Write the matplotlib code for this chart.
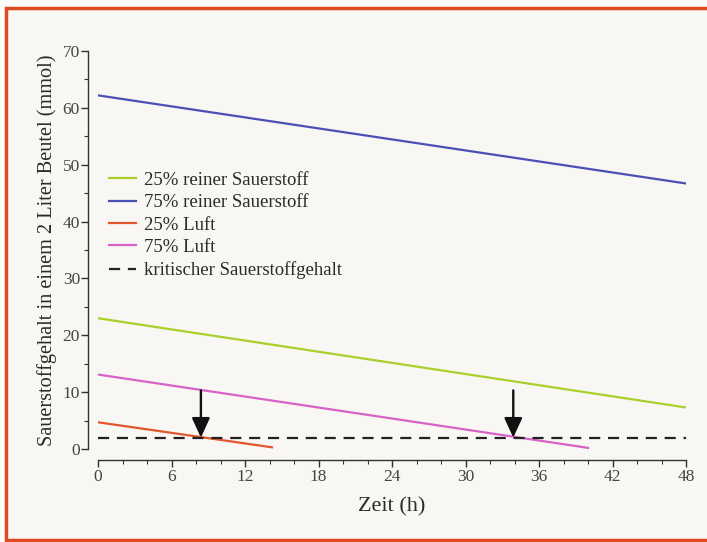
import matplotlib
matplotlib.use("Agg")
import matplotlib.pyplot as plt
from matplotlib.patches import Rectangle
from matplotlib.ticker import MultipleLocator

# Data
x_full = [0, 48]
o2_25 = [23.0, 7.3]
o2_75 = [62.2, 46.7]
luft25_x = [0, 14.2]
luft25 = [4.7, 0.3]
luft75_x = [0, 40.0]
luft75 = [13.1, 0.2]
crit_x = [0, 48]
crit = [2.0, 2.0]
arrow_x = [8.4, 33.9]
arrow_top = 10.3

labels = ["25% reiner Sauerstoff", "75% reiner Sauerstoff", "25% Luft", "75% Luft",
          "kritischer Sauerstoffgehalt"]
colors = ["#a9cf2a", "#4b50b4", "#e2562c", "#d862c8", "#222222"]
x_ticks = [0, 6, 12, 18, 24, 30, 36, 42, 48]
y_ticks = [0, 10, 20, 30, 40, 50, 60, 70]

plt.rcParams['font.family'] = ['Liberation Serif', 'DejaVu Serif']
txt = "#2a2a2a"

W, H = 707, 542
fig = plt.figure(figsize=(W / 100, H / 100), dpi=100)
fig.patch.set_facecolor("#fdfbfa")

# background panel with red border
fig.add_artist(Rectangle((6 / W, 2 / H), (W + 10) / W, 532 / H,
                         transform=fig.transFigure, facecolor="#f8f7f4",
                         edgecolor="#dd4a22", linewidth=2.5, zorder=-10))

ax = fig.add_axes([98 / W, (H - 449) / H, 588 / W, 398 / H])
ax.set_facecolor("none")
ax.set_zorder(1)

lw = 1.6
ax.plot(x_full, o2_25, color=colors[0], lw=lw, label=labels[0])
ax.plot(x_full, o2_75, color=colors[1], lw=lw, label=labels[1])
ax.plot(luft25_x, luft25, color=colors[2], lw=lw, label=labels[2])
ax.plot(luft75_x, luft75, color=colors[3], lw=lw, label=labels[3])
ax.plot(crit_x, crit, color=colors[4], lw=1.6, dashes=(5, 3.5), label=labels[4])

for xa in arrow_x:
    ax.annotate("", xy=(xa, crit[0]), xytext=(xa, arrow_top),
                arrowprops=dict(arrowstyle="-|>,head_length=1.2,head_width=0.55",
                                color="#111111", lw=1.7, shrinkA=0, shrinkB=0))

ax.set_xlim(0, 48)
ax.set_ylim(0, 70)
ax.set_xticks(x_ticks)
ax.set_yticks(y_ticks)
ax.xaxis.set_minor_locator(MultipleLocator(2))
ax.yaxis.set_minor_locator(MultipleLocator(5))

for s in ["top", "right"]:
    ax.spines[s].set_visible(False)
ax.spines["left"].set_position(("outward", 7))
ax.spines["bottom"].set_position(("outward", 8))
for s in ["left", "bottom"]:
    ax.spines[s].set_color("#333333")
    ax.spines[s].set_linewidth(1.0)

ax.tick_params(which="major", length=5, width=1.0, color="#333333", labelsize=12.5,
               labelcolor="#444444")
ax.tick_params(which="minor", length=3, width=0.8, color="#333333")
ax.tick_params(axis="x", pad=1.5)
ax.tick_params(axis="y", pad=1)

ax.set_xlabel("Zeit (h)", fontsize=16, color=txt, labelpad=9)
ax.set_ylabel("Sauerstoffgehalt in einem 2 Liter Beutel (mmol)", fontsize=14.6,
              color=txt, labelpad=4)

leg = ax.legend(loc="upper left", bbox_to_anchor=(0.0, 0.725), frameon=False,
                fontsize=13.5, handlelength=1.45, handletextpad=0.4,
                labelspacing=0.28, borderaxespad=0.2)
for t in leg.get_texts():
    t.set_color(txt)

fig.savefig("out.png", dpi=100, facecolor=fig.get_facecolor())
